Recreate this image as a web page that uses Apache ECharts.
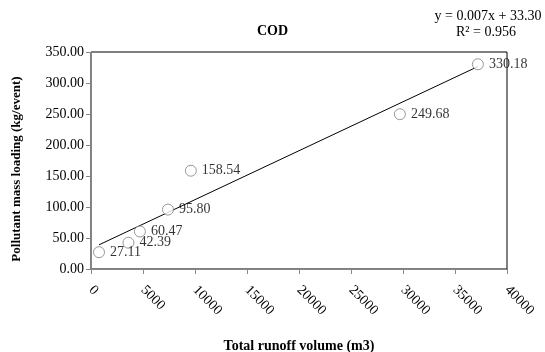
<!DOCTYPE html>
<html>
<head>
<meta charset="utf-8">
<script src="https://cdn.jsdelivr.net/npm/echarts@6/dist/echarts.min.js"></script>
<style>
  html, body { margin: 0; padding: 0; background: #fff; }
  #chart { width: 545px; height: 352px; }
</style>
</head>
<body>
<div id="chart"></div>
<script>
// Runoff volume (m3) and COD load (kg/event) per storm event
const runoffVolume = [770, 3600, 4700, 7400, 9600, 29700, 37200];
const codLoad = [27.11, 42.39, 60.47, 95.80, 158.54, 249.68, 330.18];
const xTicks = { min: 0, max: 40000, interval: 5000 };
const yTicks = { min: 0, max: 350, interval: 50 };
const equationText = 'y = 0.007x + 33.30';
const r2Text = 'R\u00b2 = 0.956';

// Least-squares linear fit over the events
function linearFit(xs, ys) {
  const n = xs.length;
  const mx = xs.reduce((a, b) => a + b, 0) / n;
  const my = ys.reduce((a, b) => a + b, 0) / n;
  let sxy = 0, sxx = 0;
  for (let i = 0; i < n; i++) {
    sxy += (xs[i] - mx) * (ys[i] - my);
    sxx += (xs[i] - mx) * (xs[i] - mx);
  }
  const slope = sxy / sxx;
  return { slope, intercept: my - slope * mx };
}
const fit = linearFit(runoffVolume, codLoad);
const xLo = Math.min(...runoffVolume), xHi = Math.max(...runoffVolume);
const trendData = [[xLo, fit.intercept + fit.slope * xLo], [xHi, fit.intercept + fit.slope * xHi]];

const serif = '"Liberation Serif", "Times New Roman", serif';
const chart = echarts.init(document.getElementById('chart'), null, { renderer: 'canvas' });

chart.setOption({
  animation: false,
  backgroundColor: '#fff',
  textStyle: { fontFamily: serif },
  title: {
    text: 'COD',
    left: 'center',
    top: 19,
    textStyle: { fontFamily: serif, fontSize: 14, fontWeight: 'bold', color: '#000' }
  },
  graphic: [
    {
      type: 'text', x: 488, y: 16,
      style: { text: equationText, font: '14px ' + serif, fill: '#000', align: 'center', verticalAlign: 'middle' }
    },
    {
      type: 'text', x: 486, y: 32,
      style: { text: r2Text, font: '14px ' + serif, fill: '#000', align: 'center', verticalAlign: 'middle' }
    },
    {
      type: 'text', x: 17, y: 169, rotation: Math.PI / 2,
      style: {
        text: 'Pollutant mass loading (kg/event)',
        font: 'bold 13px ' + serif, fill: '#000', align: 'center', verticalAlign: 'middle'
      }
    }
  ],
  grid: {
    left: 91, right: 38, top: 52, bottom: 83,
    outerBoundsMode: 'none',
    containLabel: false,
    show: true, borderColor: '#000', borderWidth: 1, backgroundColor: 'transparent'
  },
  xAxis: {
    type: 'value',
    min: xTicks.min, max: xTicks.max, interval: xTicks.interval,
    name: 'Total runoff volume (m3)',
    nameLocation: 'middle',
    nameGap: 70,
    nameTextStyle: { fontFamily: serif, fontSize: 14, fontWeight: 'bold', color: '#000' },
    axisLine: { show: true, lineStyle: { color: '#868686', width: 1 } },
    axisTick: { show: true, length: 5, lineStyle: { color: '#868686' } },
    axisLabel: {
      rotate: -45, fontFamily: serif, fontSize: 14, color: '#000', margin: 19,
      formatter: v => String(v)
    },
    splitLine: { show: false }
  },
  yAxis: {
    type: 'value',
    min: yTicks.min, max: yTicks.max, interval: yTicks.interval,
    axisLine: { show: true, lineStyle: { color: '#868686', width: 1 } },
    axisTick: { show: true, length: 5, lineStyle: { color: '#868686' } },
    axisLabel: {
      fontFamily: serif, fontSize: 14, color: '#000', margin: 7,
      formatter: v => v.toFixed(2)
    },
    splitLine: { show: false }
  },
  series: [
    {
      type: 'line',
      data: trendData,
      symbol: 'none',
      lineStyle: { color: '#000', width: 1 },
      silent: true,
      z: 2
    },
    {
      type: 'scatter',
      data: runoffVolume.map((x, i) => [x, codLoad[i]]),
      symbol: 'circle',
      symbolSize: 11,
      itemStyle: { color: '#fff', borderColor: '#808080', borderWidth: 1 },
      label: {
        show: true,
        position: 'right',
        distance: 5,
        fontFamily: serif,
        fontSize: 14,
        color: '#000',
        formatter: p => p.value[1].toFixed(2)
      },
      z: 3
    }
  ]
});
</script>
</body>
</html>
